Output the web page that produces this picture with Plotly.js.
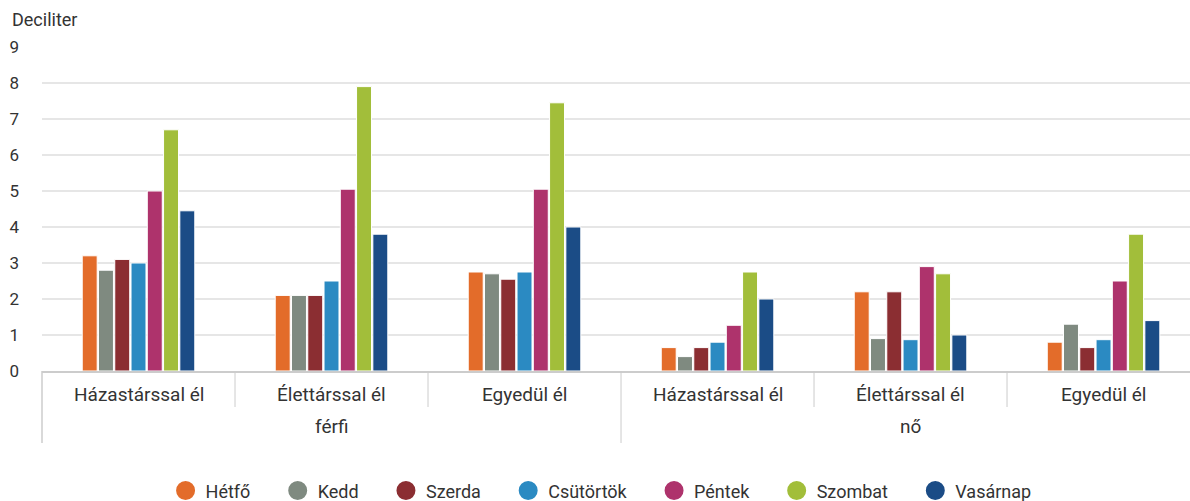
<!DOCTYPE html>
<html>
<head>
<meta charset="utf-8">
<script src="https://cdn.plot.ly/plotly-3.0.1.min.js"></script>
<style>html,body{margin:0;padding:0;background:#fff}#chart{width:1190px;height:501px}</style>
</head>
<body>
<div id="chart"></div>
<script>
var genders = ["férfi", "férfi", "férfi", "nő", "nő", "nő"];
var statuses = ["Házastárssal él", "Élettárssal él", "Egyedül él", "Házastárssal él", "Élettárssal él", "Egyedül él"];
var genderLabels = ["férfi", "nő"];
var days = ["Hétfő", "Kedd", "Szerda", "Csütörtök", "Péntek", "Szombat", "Vasárnap"];
var colors = ["#E36C2A", "#7F8A80", "#8B2E32", "#2B8AC2", "#AE336C", "#A2BE3A", "#1B4C86"];

var hetfo     = [3.2, 2.1, 2.75, 0.65, 2.2, 0.8];
var kedd      = [2.8, 2.1, 2.7, 0.4, 0.9, 1.3];
var szerda    = [3.1, 2.1, 2.55, 0.65, 2.2, 0.65];
var csutortok = [3.0, 2.5, 2.75, 0.8, 0.87, 0.87];
var pentek    = [5.0, 5.05, 5.05, 1.27, 2.9, 2.5];
var szombat   = [6.7, 7.9, 7.45, 2.75, 2.7, 3.8];
var vasarnap  = [4.45, 3.8, 4.0, 2.0, 1.0, 1.4];

var series = [hetfo, kedd, szerda, csutortok, pentek, szombat, vasarnap];

var xRange = [-0.5, 5.448];
var span = xRange[1] - xRange[0];
function px(p) { return (p - xRange[0]) / span; }

var traces = [];
series.forEach(function (vals, i) {
  traces.push({
    type: "bar",
    name: days[i],
    x: [genders, statuses],
    y: vals,
    marker: {color: colors[i], line: {color: "#ffffff", width: 1}},
    showlegend: false,
    hoverinfo: "y+name"
  });
});
var pad = "\u00A0\u00A0\u00A0\u00A0\u00A0";
days.forEach(function (d, i) {
  traces.push({
    type: "scatter",
    mode: "markers",
    name: d + (i < days.length - 1 ? pad : ""),
    x: [[genders[0]], [statuses[0]]],
    y: [null],
    marker: {color: colors[i], size: 16, symbol: "circle", line: {color: colors[i], width: 3}},
    showlegend: true,
    hoverinfo: "skip"
  });
});

var shapes = [];
var annotations = [{
  text: "Deciliter", xref: "paper", yref: "paper", x: 0, y: 1,
  xshift: -32, yshift: 28, xanchor: "left", yanchor: "middle", showarrow: false,
  font: {size: 18, color: "#333333"}
}];
statuses.forEach(function (s, i) {
  annotations.push({text: s, xref: "paper", yref: "paper", x: px(i), y: 0, yshift: -23,
    xanchor: "center", yanchor: "middle", showarrow: false, font: {size: 19, color: "#333333"}});
  if (i > 0) {
    var outer = genders[i] !== genders[i - 1];
    shapes.push({type: "line", xref: "paper", yref: "paper", ysizemode: "pixel", yanchor: 0,
      x0: px(i - 0.5), x1: px(i - 0.5), y0: 0, y1: outer ? -72 : -36,
      line: {color: "#cccccc", width: 1}});
  }
});
shapes.push({type: "line", xref: "paper", yref: "paper", ysizemode: "pixel", yanchor: 0,
  x0: px(-0.5), x1: px(-0.5), y0: 0, y1: -72, line: {color: "#cccccc", width: 1.5}});
genderLabels.forEach(function (g) {
  var idx = [];
  genders.forEach(function (v, i) { if (v === g) idx.push(i); });
  var mid = (idx[0] + idx[idx.length - 1]) / 2;
  annotations.push({text: g, xref: "paper", yref: "paper", x: px(mid), y: 0, yshift: -55,
    xanchor: "center", yanchor: "middle", showarrow: false, font: {size: 19, color: "#333333"}});
});

var layout = {
  width: 1190, height: 501,
  margin: {l: 42, r: 0, t: 47, b: 130, autoexpand: false},
  paper_bgcolor: "#ffffff", plot_bgcolor: "#ffffff",
  font: {family: "Roboto, 'Open Sans', sans-serif", color: "#333333", size: 17},
  barmode: "group",
  bargap: 0.41,
  bargroupgap: 0.08,
  xaxis: {
    type: "multicategory",
    range: xRange,
    showgrid: false,
    showline: true, linecolor: "#cccccc", linewidth: 1.5,
    showdividers: false,
    showticklabels: false,
    ticks: "",
    automargin: false
  },
  yaxis: {
    range: [0, 9],
    dtick: 1,
    showgrid: true, gridcolor: "#e6e6e6", gridwidth: 1.5,
    zeroline: false,
    showline: false,
    ticks: "",
    ticklabelstandoff: 22,
    automargin: false,
    tickfont: {size: 17, color: "#333333"}
  },
  showlegend: true,
  legend: {orientation: "h", x: 0.487, xanchor: "center", y: -0.37, yanchor: "middle",
    font: {size: 18, color: "#333333"}, itemwidth: 30, tracegroupgap: 0},
  annotations: annotations,
  shapes: shapes
};

Plotly.newPlot("chart", traces, layout, {displayModeBar: false, staticPlot: true});
</script>
</body>
</html>
